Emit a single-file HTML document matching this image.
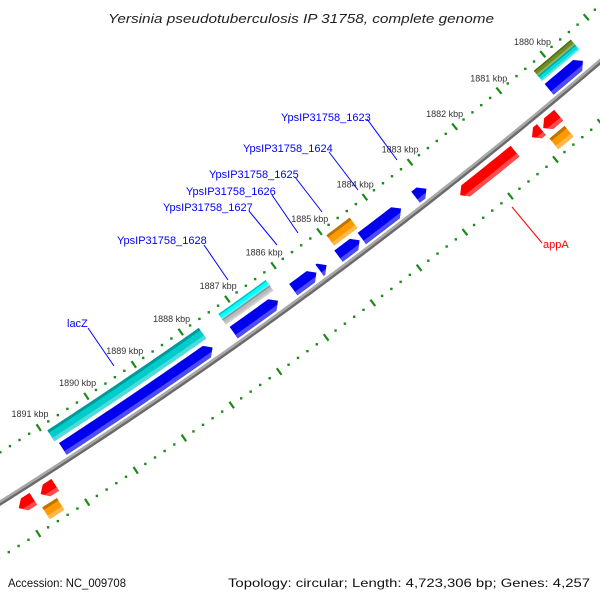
<!DOCTYPE html>
<html><head><meta charset="utf-8"><title>Genome map</title>
<style>
html,body{margin:0;padding:0;background:#fff;}
svg{display:block;font-family:"Liberation Sans","DejaVu Sans",sans-serif;}
</style></head>
<body>
<svg id="chart" width="600" height="600" viewBox="0 0 600 600" xmlns="http://www.w3.org/2000/svg">
<rect x="0" y="0" width="600" height="600" fill="#fff"/>
<defs id="defs"></defs>
<g id="rings"></g>
<g id="backbone"></g>
<g id="features"></g>
<g id="ticklabels"></g>
<g id="labels"></g>
<text x="108" y="23" font-size="13" font-style="italic" fill="#222" textLength="386" lengthAdjust="spacingAndGlyphs">Yersinia pseudotuberculosis IP 31758, complete genome</text>
<text x="8" y="587" font-size="12" fill="#111" textLength="118" lengthAdjust="spacingAndGlyphs">Accession: NC_009708</text>
<text x="228" y="587" font-size="12" fill="#111" textLength="362" lengthAdjust="spacingAndGlyphs">Topology: circular; Length: 4,723,306 bp; Genes: 4,257</text>
</svg>
<script>
// ---- data (kbp) ----
const tickKbp = [1878,1879,1880,1881,1882,1883,1884,1885,1886,1887,1888,1889,1890,1891,1892,1893];
const tickLabels = ["1878 kbp","1879 kbp","1880 kbp","1881 kbp","1882 kbp","1883 kbp","1884 kbp","1885 kbp","1886 kbp","1887 kbp","1888 kbp","1889 kbp","1890 kbp","1891 kbp","1892 kbp","1893 kbp"];
const labeledTicks = [1880,1881,1882,1883,1884,1885,1886,1887,1888,1889,1890,1891];
const featStart = [1887.7,1887.7,1886.26,1886.26,1886.3,1885.47,1885.25,1884.53,1884.43,1883.62,1883.06,1879.54,1879.46,1879.46,1881.45,1880.86,1880.47,1880.51,1891.75,1891.3,1891.4];
const featEnd   = [1890.9,1890.85,1887.28,1887.28,1887.25,1885.97,1885.4,1884.99,1884.94,1884.48,1883.3,1880.31,1880.31,1880.31,1882.67,1881.07,1880.82,1880.85,1892.05,1891.6,1891.7];
const featSlot  = ["fo","fc","foT","foB","fc","fc","fc","fc","fo","fc","fc","fc","foT","foB","rc","rc","rc","ro","rc","rc","ro"];
const featColor = ["#00cccc","#0000ee","#00ffff","#bbbbbb","#0000ee","#0000ee","#0000ee","#0000ee","#ff9900","#0000ee","#0000ee","#0000ee","#6b8e23","#00dddd","#ff0000","#ff0000","#ff0000","#ff9900","#ff0000","#ff0000","#ff9900"];
const featName  = ["lacZ-track","lacZ","gene-1887-cyan","gene-1887-gray","gene-1887-cds","YpsIP31758_1628","YpsIP31758_1627","YpsIP31758_1626","YpsIP31758_1625","YpsIP31758_1624","YpsIP31758_1623","gene-1880-cds","gene-1880-olive","gene-1880-cyan","appA","gene-1881-rev","gene-1880-rev","gene-1880-orange","gene-1892-rev","gene-1891-rev","gene-1891-orange"];

// ---- geometry ----
const CX=-2710, CY=-3810;
const SLOTS={fc:[5075,5089],fo:[5058,5071],foT:[5058,5064.5],foB:[5064.5,5071],rc:[5101,5115],ro:[5120,5134]};
const ARROW={fc:"start",rc:"end"};
function ang(k){return (49.91+(k-1880)*0.6473)*Math.PI/180;}
function pt(r,a){return [CX+r*Math.cos(a),CY+r*Math.sin(a)];}
function arcPts(r,a1,a2,n){const p=[];for(let i=0;i<=n;i++){p.push(pt(r,a1+(a2-a1)*i/n));}return p;}
function fmt(ps){return ps.map(p=>p[0].toFixed(2)+","+p[1].toFixed(2)).join(" ");}
const NS="http://www.w3.org/2000/svg";
function mk(tag,attrs,parent){const e=document.createElementNS(NS,tag);for(const k in attrs)e.setAttribute(k,attrs[k]);parent.appendChild(e);return e;}

// rings
const rings=document.getElementById('rings');
const RIN=5051, ROUT=5140;
for(const R of [RIN,ROUT]){
  for(let k=1877;k<=1894;k+=0.2){
    const kk=Math.round(k*10)/10;
    if(Math.abs(kk-Math.round(kk))<0.01) continue;
    const p=pt(R,ang(kk));
    if(p[0]<-5||p[0]>605||p[1]<-5||p[1]>605) continue;
    const d=mk('rect',{x:(p[0]-1.2).toFixed(2),y:(p[1]-1.2).toFixed(2),width:2.4,height:2.4,fill:'#1a8a1a'},rings);
    
    
  }
  tickKbp.forEach(k=>{
    const a=ang(k),p1=pt(R-4,a),p2=pt(R+4,a);
    const l=mk('line',{x1:p1[0],y1:p1[1],x2:p2[0],y2:p2[1],stroke:'#1a8a1a','stroke-width':2.2},rings);
    
    
  });
}
// tick labels
const tl=document.getElementById('ticklabels');
tickKbp.forEach((k,i)=>{
  if(labeledTicks.indexOf(k)<0) return;
  const p=pt(5035,ang(k));
  const t=mk('text',{x:p[0].toFixed(1),y:(p[1]+3).toFixed(1),'text-anchor':'middle','font-size':9,fill:'#333'},tl);
  t.textContent=tickLabels[i];
  
  
});

// backbone
const bb=document.getElementById('backbone');
const aA=ang(1876),aB=ang(1895);
const b1=mk('polyline',{points:fmt(arcPts(5092.5,aA,aB,200)),fill:'none',stroke:'#a8a8a8','stroke-width':2.5},bb);


const b2=mk('polyline',{points:fmt(arcPts(5095,aA,aB,200)),fill:'none',stroke:'#6a6a6a','stroke-width':2.5},bb);



// features
const defs=document.getElementById('defs');
const fg=document.getElementById('features');
function shape(s,e,r1,r2,arrow){
  const a1=ang(s),a2=ang(e),rm=(r1+r2)/2,h=7/rm;
  const n=Math.max(4,Math.ceil((a2-a1)*rm/5));
  if(arrow==="start"){
    const b=Math.min(a1+h,a2);
    return [pt(rm,a1)].concat(arcPts(r1,b,a2,n),arcPts(r2,a2,b,n));
  }else if(arrow==="end"){
    const b=Math.max(a2-h,a1);
    return arcPts(r1,a1,b,n).concat([pt(rm,a2)],arcPts(r2,b,a1,n));
  }
  return arcPts(r1,a1,a2,n).concat(arcPts(r2,a2,a1,n));
}
function shade(c,f){const n=parseInt(c.slice(1),16);let r=n>>16,g=(n>>8)&255,b=n&255;
  if(f>0){r=r+(255-r)*f;g=g+(255-g)*f;b=b+(255-b)*f;}else{r=r*(1+f);g=g*(1+f);b=b*(1+f);}
  return 'rgb('+Math.round(r)+','+Math.round(g)+','+Math.round(b)+')';}
featStart.forEach((s,i)=>{
  const e=featEnd[i],sl=SLOTS[featSlot[i]],arrow=ARROW[featSlot[i]]||null;
  const pts=fmt(shape(s,e,sl[0],sl[1],arrow));
  const cp=mk('clipPath',{id:'cp'+i},defs);
  mk('polygon',{points:pts},cp);
  const g=mk('g',{},fg);
  
  
  mk('polygon',{points:pts,fill:featColor[i]},g);
  const th=sl[1]-sl[0];
  const a1=ang(s)-0.001,a2=ang(e)+0.001;
  const top=arcPts(sl[0]-1,a1,a2,20).concat(arcPts(sl[0]+th*0.22,a2,a1,20));
  const bot=arcPts(sl[1]-th*0.3,a1,a2,20).concat(arcPts(sl[1]+1,a2,a1,20));
  const isBlueRed=(featColor[i]==="#0000ee"||featColor[i]==="#ff0000");
  if(!isBlueRed) mk('polygon',{points:fmt(top),fill:shade(featColor[i],-0.25),'clip-path':'url(#cp'+i+')'},g);
  mk('polygon',{points:fmt(bot),fill:shade(featColor[i],0.3),'clip-path':'url(#cp'+i+')'},g);
});

// labels
const labelText=["YpsIP31758_1623","YpsIP31758_1624","YpsIP31758_1625","YpsIP31758_1626","YpsIP31758_1627","YpsIP31758_1628","lacZ","appA"];
const labelColor=["#0000ff","#0000ff","#0000ff","#0000ff","#0000ff","#0000ff","#0000ff","#ff0000"];
const lg=document.getElementById('labels');
const LBL=[[281,121,367,119,397,160],[243,152,329,152,358,190],[209,178,295,177,322,212],[186,195,272,195,298,233],[163,211,249,211,277,245],[117,244,204,245,228,280],[67,327,88,328,114,366],[543,248,542,243,512,207]];
labelText.forEach((t,i)=>{
  const L=LBL[i];
  const g=mk('g',{},lg);
  
  
  mk('line',{x1:L[2],y1:L[3],x2:L[4],y2:L[5],stroke:labelColor[i],'stroke-width':1},g);
  const tx=mk('text',{x:L[0],y:L[1],'font-size':11,fill:labelColor[i]},g);
  tx.textContent=t;
});
</script>
</body></html>
